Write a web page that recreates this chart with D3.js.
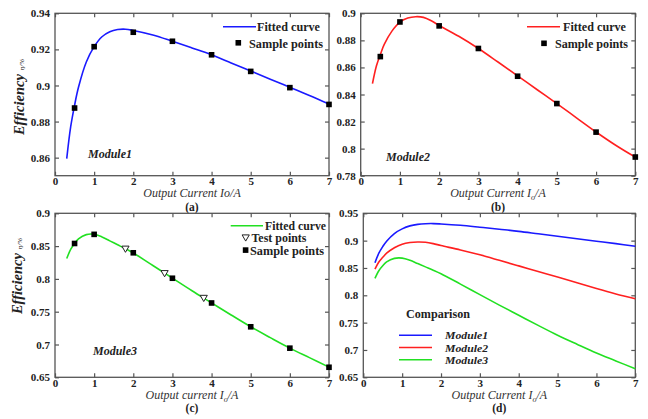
<!DOCTYPE html>
<html>
<head>
<meta charset="utf-8">
<script src="https://cdn.jsdelivr.net/npm/d3@7"></script>
<style>
  body { margin: 0; background: #fff; }
  svg text { font-family: "Liberation Serif", "DejaVu Serif", serif; }
</style>
</head>
<body>
<div id="chart"></div>
<script>
// fitted curves
const curveCurrent = [0.3, 0.4, 0.5, 0.6, 0.8, 1.0, 1.2, 1.4, 1.6, 1.8, 2.0, 2.5, 3, 3.5, 4, 4.5, 5, 5.5, 6, 6.5, 7];
const module1Curve = [0.8595, 0.877, 0.889, 0.899, 0.913, 0.9215, 0.927, 0.9298, 0.931, 0.9312, 0.9305, 0.928, 0.9245, 0.9208, 0.917, 0.9125, 0.908, 0.9035, 0.899, 0.8945, 0.8897];
const module2Curve = [0.848, 0.861, 0.8695, 0.877, 0.887, 0.8935, 0.8965, 0.8975, 0.897, 0.8945, 0.891, 0.883, 0.874, 0.864, 0.8538, 0.8435, 0.8333, 0.8228, 0.8123, 0.8025, 0.7937];
const module3Curve = [0.831, 0.845, 0.854, 0.861, 0.8675, 0.868, 0.864, 0.858, 0.852, 0.846, 0.8395, 0.8205, 0.8012, 0.782, 0.7635, 0.745, 0.727, 0.7105, 0.6945, 0.68, 0.6655];

// measured points
const sampleCurrent = [0.5, 1, 2, 3, 4, 5, 6, 7];
const module1Samples = [0.8875, 0.9215, 0.9295, 0.9245, 0.917, 0.9078, 0.8988, 0.8895];
const module2Samples = [0.868, 0.8936, 0.8907, 0.874, 0.8535, 0.8333, 0.8122, 0.7938];
const module3Samples = [0.854, 0.8679, 0.8398, 0.801, 0.7633, 0.727, 0.6944, 0.6653];
const testCurrent = [1.8, 2.8, 3.8];
const module3Tests = [0.846, 0.8087, 0.771];

const xTicks = [0, 1, 2, 3, 4, 5, 6, 7];
const yTicksA = [0.86, 0.88, 0.9, 0.92, 0.94];
const yTicksB = [0.78, 0.8, 0.82, 0.84, 0.86, 0.88, 0.9];
const yTicksC = [0.65, 0.7, 0.75, 0.8, 0.85, 0.9];
const yTicksD = [0.65, 0.7, 0.75, 0.8, 0.85, 0.9, 0.95];

const colors = { m1: '#1a1aff', m2: '#ff2020', m3: '#22e022' };
const serif = '"Liberation Serif", "DejaVu Serif", serif';

const svg = d3.select('#chart').append('svg')
    .attr('width', 648)
    .attr('height', 419)
    .attr('font-family', serif);

const fmt = v => String(+v.toFixed(2));

function toPoints(xs, ys) {
    return xs.map((x, i) => ({x: x, y: ys[i]}));
}

function panel(cfg) {
    const x = d3.scaleLinear().domain([0, 7]).range([cfg.left, cfg.right]);
    const y = d3.scaleLinear().domain(cfg.yDomain).range([cfg.bottom, cfg.top]);
    const g = svg.append('g');

    // frame
    g.append('rect')
        .attr('x', cfg.left).attr('y', cfg.top)
        .attr('width', cfg.right - cfg.left).attr('height', cfg.bottom - cfg.top)
        .attr('fill', 'none').attr('stroke', '#555').attr('stroke-width', 1.3);

    // axes, ticks pointing inside
    g.append('g')
        .attr('transform', 'translate(0,' + cfg.bottom + ')')
        .call(d3.axisBottom(x).tickValues(xTicks).tickFormat(d3.format('d')).tickSizeInner(-4).tickSizeOuter(0).tickPadding(1.5));
    g.append('g')
        .attr('transform', 'translate(0,' + cfg.top + ')')
        .call(d3.axisTop(x).tickValues(xTicks).tickFormat('').tickSizeInner(-4).tickSizeOuter(0));
    g.append('g')
        .attr('transform', 'translate(' + cfg.left + ',0)')
        .call(d3.axisLeft(y).tickValues(cfg.yTicks).tickFormat(fmt).tickSizeInner(-4).tickSizeOuter(0).tickPadding(5));
    g.append('g')
        .attr('transform', 'translate(' + cfg.right + ',0)')
        .call(d3.axisRight(y).tickValues(cfg.yTicks).tickFormat('').tickSizeInner(-4).tickSizeOuter(0));

    g.selectAll('.domain').remove();
    g.selectAll('g').attr('font-family', serif);
    g.selectAll('.tick line').attr('stroke', '#555').attr('stroke-width', 1.2);
    g.selectAll('.tick text')
        .attr('font-family', serif)
        .attr('font-size', 11)
        .attr('font-weight', 'bold')
        .attr('fill', '#222');

    // x title
    const xt = g.append('text')
        .attr('x', (cfg.left + cfg.right) / 2)
        .attr('y', cfg.bottom + cfg.titleDy)
        .attr('text-anchor', 'middle')
        .attr('font-size', 12)
        .attr('font-style', 'italic')
        .attr('fill', '#333');
    xt.append('tspan').text(cfg.xTitle);
    if (cfg.sub) {
        xt.append('tspan').text('I');
        xt.append('tspan').attr('font-size', 8).attr('dy', 3).text('o');
        xt.append('tspan').attr('dy', -3).text('/A');
    }
    g.append('text')
        .attr('x', (cfg.left + cfg.right) / 2)
        .attr('y', cfg.bottom + cfg.letterDy)
        .attr('text-anchor', 'middle')
        .attr('font-size', 11.5)
        .attr('font-weight', 'bold')
        .attr('fill', '#222')
        .text(cfg.letter);

    if (cfg.yLabel) {
        const yl = g.append('text')
            .attr('transform', 'translate(' + cfg.yLabelX + ',' + cfg.yLabelY + ') rotate(-90)')
            .attr('text-anchor', 'middle')
            .attr('fill', '#222');
        yl.append('tspan')
            .attr('font-size', 14.5).attr('font-weight', 'bold').attr('font-style', 'italic')
            .text('Efficiency');
        yl.append('tspan')
            .attr('font-size', 7).attr('font-style', 'italic').attr('dx', 4)
            .text('η/%');
    }

    if (cfg.module) {
        g.append('text')
            .attr('x', cfg.moduleX).attr('y', cfg.moduleY)
            .attr('font-size', 12).attr('font-weight', 'bold').attr('font-style', 'italic')
            .attr('fill', '#222')
            .text(cfg.module);
    }

    const line = d3.line()
        .x(d => x(d.x))
        .y(d => y(d.y))
        .curve(d3.curveCatmullRom);

    cfg.curves.forEach(c => {
        g.append('path')
            .datum(toPoints(curveCurrent, c.values))
            .attr('fill', 'none')
            .attr('stroke', c.color)
            .attr('stroke-width', 1.6)
            .attr('d', line);
    });

    if (cfg.samples) {
        g.selectAll('.sample')
            .data(toPoints(sampleCurrent, cfg.samples))
            .join('rect')
            .attr('class', 'sample')
            .attr('x', d => x(d.x) - 2.8)
            .attr('y', d => y(d.y) - 2.8)
            .attr('width', 5.6)
            .attr('height', 5.6)
            .attr('fill', '#000');
    }
    if (cfg.tests) {
        g.selectAll('.test')
            .data(toPoints(testCurrent, cfg.tests))
            .join('path')
            .attr('class', 'test')
            .attr('transform', d => 'translate(' + x(d.x) + ',' + y(d.y) + ')')
            .attr('d', 'M-3.6,-2.6L3.6,-2.6L0,3.6Z')
            .attr('fill', '#fff')
            .attr('stroke', '#222')
            .attr('stroke-width', 1);
    }
    return g;
}

// legend text squeezed to the width it has in the reference
function legendText(g, x, y, txt, len) {
    g.append('text')
        .attr('x', x).attr('y', y)
        .attr('font-size', 12.5).attr('font-weight', 'bold')
        .attr('fill', '#222')
        .attr('textLength', len)
        .attr('lengthAdjust', 'spacingAndGlyphs')
        .text(txt);
}

// (a)
const ga = panel({
    left: 55, right: 329, top: 13.3, bottom: 175.7,
    yDomain: [0.85, 0.94], yTicks: yTicksA,
    xTitle: 'Output Current Io/A', titleDy: 21.3, letter: '(a)', letterDy: 34.8,
    yLabel: true, yLabelX: 24, yLabelY: 97,
    module: 'Module1', moduleX: 88, moduleY: 158,
    curves: [{values: module1Curve, color: colors.m1}],
    samples: module1Samples
});
ga.append('line').attr('x1', 223).attr('x2', 256).attr('y1', 26.7).attr('y2', 26.7)
    .attr('stroke', colors.m1).attr('stroke-width', 1.6);
legendText(ga, 257, 31, 'Fitted curve', 63);
ga.append('rect').attr('x', 235.5).attr('y', 40).attr('width', 5.6).attr('height', 5.6).attr('fill', '#000');
legendText(ga, 249, 47.5, 'Sample points', 74);

// (b)
const gb = panel({
    left: 360.7, right: 635.3, top: 13.3, bottom: 175.7,
    yDomain: [0.78, 0.9], yTicks: yTicksB,
    xTitle: 'Output Current ', sub: true, titleDy: 21.3, letter: '(b)', letterDy: 34.8,
    module: 'Module2', moduleX: 386, moduleY: 161,
    curves: [{values: module2Curve, color: colors.m2}],
    samples: module2Samples
});
gb.append('line').attr('x1', 527).attr('x2', 560).attr('y1', 26.7).attr('y2', 26.7)
    .attr('stroke', colors.m2).attr('stroke-width', 1.6);
legendText(gb, 563, 31, 'Fitted curve', 63);
gb.append('rect').attr('x', 541.2).attr('y', 40.5).attr('width', 5.6).attr('height', 5.6).attr('fill', '#000');
legendText(gb, 555, 47.5, 'Sample points', 73);

// (c)
const gc = panel({
    left: 55, right: 329, top: 213.3, bottom: 377.3,
    yDomain: [0.65, 0.9], yTicks: yTicksC,
    xTitle: 'Output current ', sub: true, titleDy: 21.3, letter: '(c)', letterDy: 34.8,
    yLabel: true, yLabelX: 22, yLabelY: 276,
    module: 'Module3', moduleX: 93, moduleY: 355,
    curves: [{values: module3Curve, color: colors.m3}],
    samples: module3Samples, tests: module3Tests
});
gc.append('line').attr('x1', 230.7).attr('x2', 263).attr('y1', 225.7).attr('y2', 225.7)
    .attr('stroke', colors.m3).attr('stroke-width', 1.6);
legendText(gc, 265, 229.5, 'Fitted curve', 61);
gc.append('path').attr('transform', 'translate(245.7,237.5)')
    .attr('d', 'M-3.6,-2.6L3.6,-2.6L0,3.6Z')
    .attr('fill', '#fff').attr('stroke', '#222').attr('stroke-width', 1);
legendText(gc, 251.5, 242, 'Test points', 55);
gc.append('rect').attr('x', 242.8).attr('y', 247.3).attr('width', 5.6).attr('height', 5.6).attr('fill', '#000');
legendText(gc, 250, 254.5, 'Sample points', 74);

// (d)
const gd = panel({
    left: 363.3, right: 635.3, top: 213.3, bottom: 377.3,
    yDomain: [0.65, 0.95], yTicks: yTicksD,
    xTitle: 'Output Current ', sub: true, titleDy: 21.3, letter: '(d)', letterDy: 34.8,
    curves: [
        {values: module1Curve, color: colors.m1},
        {values: module2Curve, color: colors.m2},
        {values: module3Curve, color: colors.m3}
    ]
});
legendText(gd, 406, 318, 'Comparison', 64);
const legendD = [
    {name: 'Module1', color: colors.m1},
    {name: 'Module2', color: colors.m2},
    {name: 'Module3', color: colors.m3}
];
legendD.forEach((d, i) => {
    const yy = 335.3 + i * 12.2;
    gd.append('line').attr('x1', 399).attr('x2', 432).attr('y1', yy).attr('y2', yy)
        .attr('stroke', d.color).attr('stroke-width', 1.6);
    gd.append('text').attr('x', 445).attr('y', yy + 4)
        .attr('font-size', 10.5).attr('font-weight', 'bold').attr('font-style', 'italic')
        .attr('fill', '#222')
        .attr('textLength', 43)
        .attr('lengthAdjust', 'spacingAndGlyphs')
        .text(d.name);
});
</script>
</body>
</html>
